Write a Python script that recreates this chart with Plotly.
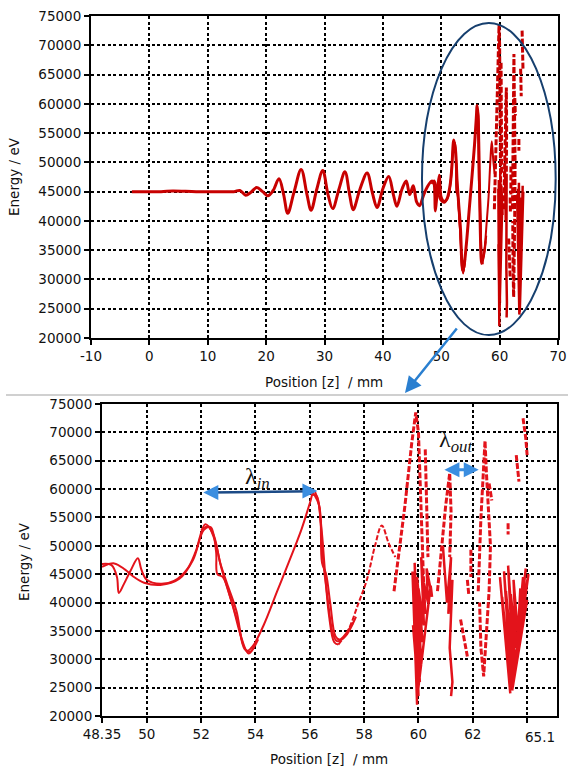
import plotly.graph_objects as go

W, H = 568, 769

# ---------------- data ----------------
# main trajectory: position [mm] and energy [eV]
z_main = [-3.0, 2.0, 4.0, 8.0, 12.0, 14.5, 15.5, 16.5, 17.4, 18.4, 19.4, 20.3, 21.2, 22.2,
          23.0, 23.7, 24.8, 26.0, 27.0, 27.7, 28.7, 29.7, 30.6, 31.4, 32.5, 33.5, 34.3,
          34.9, 36.1, 37.3, 38.2, 39.0, 40.0, 41.0, 41.8, 42.4, 43.3, 44.0, 44.6, 45.2,
          45.8, 46.3, 46.9, 47.6, 48.35, 48.7, 48.9, 48.97, 49.15, 49.4, 49.67, 49.8,
          50.0, 50.5, 51.0, 51.5, 51.8, 52.15, 52.45, 52.7, 52.95, 53.3, 53.55, 53.7,
          53.9, 54.3, 54.8, 55.3, 55.7, 56.0, 56.15, 56.3, 56.45, 56.55, 56.7, 56.9,
          57.05]
e_main = [45000, 45000, 45100, 45000, 45000, 45000, 45200, 44400, 44900, 45700, 45000, 44300,
          45200, 47200, 44500, 41300, 45000, 48800, 44500, 41800, 45500, 48600, 44500, 42100,
          45500, 48400, 44500, 41900, 45500, 48200, 44800, 42300, 45500, 47600, 44500, 42500,
          45500, 46800, 44500, 46000, 43200, 42600, 44200, 45800, 46800, 46600, 44500, 41700,
          43200, 45600, 47800, 45800, 44000, 43300, 43800, 46000, 49000, 53800, 52000, 47000,
          43400, 38500, 32500, 31500, 32300, 36000, 42000, 48000, 53000, 57500, 59700, 58000,
          52000, 46000, 38000, 33000, 32600]

# thin, partly broken continuation after the last trough
z_tail = [57.05, 57.4, 57.8, 58.1, 58.4, 58.65, 58.9, 59.15]
e_tail = [32600, 35000, 40000, 44000, 50000, 53600, 50500, 48000]

# neighbouring trajectories (extra strands seen in the zoomed view)
z_strand_b = [48.35, 48.8, 49.2, 49.5, 49.9, 50.5, 51.2, 51.7, 52.1, 52.35, 52.55, 52.6,
              52.8, 53.1, 53.5, 53.75, 54.1]
e_strand_b = [46300, 46900, 45800, 44600, 43500, 43100, 44200, 47500, 52800, 53300, 49000,
              45000, 44500, 40500, 33500, 31000, 33500]
z_strand_c = [56.1, 56.35, 56.45, 56.6, 56.75, 56.95, 57.1, 57.6]
e_strand_c = [59500, 57000, 47000, 45000, 40000, 34000, 33500, 36500]
z_strand_d = [52.0, 52.25, 52.5, 52.75, 53.0, 53.35, 53.6, 53.8, 54.0]
e_strand_d = [52800, 53400, 51000, 46000, 42000, 36500, 31800, 31300, 33000]
z_strand_e = [56.05, 56.25, 56.4, 56.5, 56.65, 56.85, 57.0, 57.3, 57.7]
e_strand_e = [59000, 58800, 54000, 47000, 41000, 34500, 33200, 34000, 37500]

# broken spikes of the saturated region (None = gap)
z_spikes = [59.1, 59.5, 59.75, 59.9, 60.0, 60.05, 60.15, 60.2, None,
            60.25, 60.3, 60.35, None,
            60.7, 60.85, 61.0, 61.15, 61.2, 61.15, None,
            61.55, 61.8, None, 61.8, 61.85, None, 61.93, 61.93, None,
            62.2, 62.3, 62.4, 62.45, 62.5, 62.55, 62.65, 62.6, 62.5, 62.4, 62.3, 62.25, None,
            62.6, 62.7, None, 63.3, 63.3, None, 63.6, 63.7, None,
            63.85, 63.95, 64.0]
e_spikes = [42000, 57000, 68000, 73500, 70000, 62000, 50000, 42000, None,
            67000, 58000, 48000, None,
            42000, 50000, 57000, 62800, 56000, 48000, None,
            37000, 30500, None, 44000, 41500, None, 49300, 44500, None,
            42000, 55000, 64000, 68500, 63000, 59000, 50000, 42000, 34000, 27000, 32000, 40000, None,
            61000, 58000, None, 54000, 52000, None, 66000, 61300, None,
            72500, 69000, 66000]

# dense clusters of the saturated region
z_blobs = [59.78, 59.95, 59.82, 60.0, 59.86, 60.05, 59.9, 60.1, 59.95, 60.15, 60.0, 60.2, 60.1,
           60.25, 60.2, 60.35, 60.3, 60.5, 60.45, 59.97, 59.9, 59.8, None,
           60.9, 61.05, 61.2, 61.1, 61.25, 61.15, 61.25, 61.2, None,
           63.0, 63.38, 63.08, 63.42, 63.15, 63.45, 63.22, 63.5, 63.3, 63.55, 63.4, 63.6, 63.5,
           63.65, 64.05, 63.45, 64.0, 63.5, 63.95, 63.55, 63.9, 63.6, 63.85, 63.65, 63.75]
e_blobs = [45500, 22000, 41000, 23500, 47000, 26000, 39000, 29000, 44500, 33000, 42500, 36000, 48000,
           38000, 43500, 40000, 46000, 41000, 43000, 24000, 30000, 36000, None,
           50000, 40000, 48000, 38000, 44000, 32000, 26000, 23500, None,
           44500, 24000, 41000, 25000, 45500, 26000, 42000, 27500, 46500, 29500, 41500, 32000, 44000,
           35000, 45000, 24500, 40500, 26500, 46000, 28500, 41500, 30500, 44500, 33000, 42500]

top_xticks = [-10, 0, 10, 20, 30, 40, 50, 60, 70]
top_xlabels = ["-10", "0", "10", "20", "30", "40", "50", "60", "70"]
bot_xticks = [48.35, 50, 52, 54, 56, 58, 60, 62, 64]
bot_xlabels = ["48.35", "50", "52", "54", "56", "58", "60", "62", ""]
y_ticks = [20000, 25000, 30000, 35000, 40000, 45000, 50000, 55000, 60000, 65000, 70000, 75000]

# ---------------- figure ----------------
TOP_RED = "#c80000"
BOT_RED = "#e3131b"
FONT = "DejaVu Sans"

fig = go.Figure()

def line_trace(x, y, xa, ya, color, width, spline=True, dash=None):
    ln = dict(color=color, width=width)
    if spline:
        ln.update(shape="spline", smoothing=1.0)
    if dash:
        ln["dash"] = dash
    fig.add_trace(go.Scatter(x=x, y=y, mode="lines", xaxis=xa, yaxis=ya, line=ln,
                             connectgaps=False, hoverinfo="skip", showlegend=False))

def add_set(xa, ya, color, wmain, wstrand, tail_dash):
    line_trace(z_main, e_main, xa, ya, color, wmain)
    line_trace(z_tail, e_tail, xa, ya, color, wstrand, dash=tail_dash)
    line_trace(z_strand_b, e_strand_b, xa, ya, color, wstrand)
    line_trace(z_strand_c, e_strand_c, xa, ya, color, wstrand)
    line_trace(z_strand_d, e_strand_d, xa, ya, color, wstrand)
    line_trace(z_strand_e, e_strand_e, xa, ya, color, wstrand)
    line_trace(z_spikes, e_spikes, xa, ya, color, 3, spline=False, dash="6px,2px")
    line_trace(z_blobs, e_blobs, xa, ya, color, 2.5, spline=False)

add_set("x", "y", TOP_RED, 3, 2, None)
add_set("x2", "y2", BOT_RED, 2, 2, "5px,2px")

def px_x(p):
    return p / W

def px_y(p):
    return 1 - p / H

grid = dict(showgrid=True, gridcolor="black", gridwidth=1.5, griddash="3px,2.5px",
            zeroline=False, showline=True, linecolor="black", linewidth=2, mirror=True,
            ticks="outside", ticklen=5, tickwidth=1.5, tickcolor="black", automargin=False,
            tickfont=dict(family=FONT, size=13.5, color="#111"))

fig.update_layout(
    width=W, height=H, autosize=False,
    margin=dict(l=0, r=0, t=0, b=0, pad=0, autoexpand=False),
    paper_bgcolor="white", plot_bgcolor="white",
    xaxis=dict(domain=[px_x(91), px_x(558)], range=[-10, 70], tickvals=top_xticks,
               ticktext=top_xlabels, anchor="y", **grid),
    yaxis=dict(domain=[px_y(338), px_y(16)], range=[20000, 75000], tickvals=y_ticks,
               tickformat="d", anchor="x", **grid),
    xaxis2=dict(domain=[px_x(102), px_x(557)], range=[48.35, 65.1], tickvals=bot_xticks,
                ticktext=bot_xlabels, anchor="y2", **grid),
    yaxis2=dict(domain=[px_y(716), px_y(404)], range=[20000, 75000], tickvals=y_ticks,
                tickformat="d", anchor="x2", **grid),
)

shapes = []
# ellipse marking the saturated region
shapes.append(dict(type="circle", xref="x", yref="y", x0=46.7, x1=69.6, y0=20500, y1=73800,
                   line=dict(color="#163f6e", width=2)))
# separator between the two panels
shapes.append(dict(type="line", xref="paper", yref="paper", x0=px_x(6), x1=1, y0=px_y(395), y1=px_y(395),
                   line=dict(color="#d0d0d0", width=2)))
# lambda_in double arrow shaft
shapes.append(dict(type="line", xref="x2", yref="y2", x0=52.3, x1=56.1, y0=59400, y1=59600,
                   line=dict(color="#1b4a86", width=2.5)))
fig.update_layout(shapes=shapes)

ann = []
title_font = dict(family=FONT, size=13.5, color="#111")
ann.append(dict(text="Position [z]\u00a0 / mm", xref="paper", yref="paper", x=px_x(324), y=px_y(382),
                showarrow=False, font=title_font, xanchor="center", yanchor="middle"))
ann.append(dict(text="Position [z]\u00a0 / mm", xref="paper", yref="paper", x=px_x(329), y=px_y(759),
                showarrow=False, font=title_font, xanchor="center", yanchor="middle"))
ann.append(dict(text="Energy / eV", xref="paper", yref="paper", x=px_x(14), y=px_y(177),
                showarrow=False, font=title_font, textangle=-90, xanchor="center", yanchor="middle"))
ann.append(dict(text="Energy / eV", xref="paper", yref="paper", x=px_x(24), y=px_y(562),
                showarrow=False, font=title_font, textangle=-90, xanchor="center", yanchor="middle"))
ann.append(dict(text="65.1", xref="x2", yref="paper", x=65.1, y=px_y(737),
                showarrow=False, font=dict(family=FONT, size=13.5, color="#111"),
                xanchor="right", yanchor="middle"))
# arrow from the ellipse down to the zoomed panel
ann.append(dict(text="", xref="paper", yref="paper", x=px_x(405), y=px_y(393),
                ax=53, ay=-66, showarrow=True, arrowhead=2, arrowsize=1.3, arrowwidth=2.5,
                arrowcolor="#2a7fd0"))
# lambda_in arrow heads
ann.append(dict(text="", xref="x2", yref="y2", x=52.08, y=59400, ax=14, ay=0,
                showarrow=True, arrowhead=2, arrowsize=1.2, arrowwidth=2.5, arrowcolor="#3b8ee0"))
ann.append(dict(text="", xref="x2", yref="y2", x=56.28, y=59650, ax=-14, ay=0,
                showarrow=True, arrowhead=2, arrowsize=1.2, arrowwidth=2.5, arrowcolor="#3b8ee0"))
# lambda_out double arrow
ann.append(dict(text="", xref="x2", yref="y2", x=62.22, y=63400, axref="x2", ayref="y2",
                ax=60.9, ay=63400, showarrow=True, arrowhead=2, startarrowhead=2,
                arrowside="end+start", arrowsize=1.0, startarrowsize=1.0, arrowwidth=3,
                arrowcolor="#3b8ee0"))
# lambda labels
lam_font = dict(family="Liberation Serif", size=24, color="#111")
ann.append(dict(text="λ<sub><i>in</i></sub>", xref="paper", yref="paper", x=px_x(243), y=px_y(478),
                showarrow=False, font=lam_font, xanchor="left", yanchor="middle"))
ann.append(dict(text="λ<sub><i>out</i></sub>", xref="paper", yref="paper", x=px_x(437), y=px_y(441),
                showarrow=False, font=lam_font, xanchor="left", yanchor="middle"))
fig.update_layout(annotations=ann)

fig.write_html("out.html", config={"displayModeBar": False},
               post_script="document.body.style.margin='0';document.body.style.overflow='hidden';")
